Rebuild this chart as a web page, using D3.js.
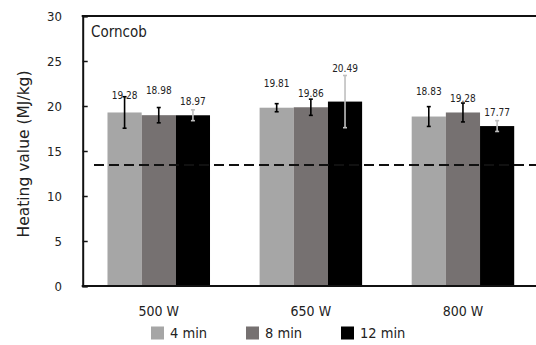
<!DOCTYPE html>
<html>
<head>
<meta charset="utf-8">
<script src="https://cdn.jsdelivr.net/npm/d3@7"></script>
<style>
  html, body { margin: 0; padding: 0; background: #fff; }
  svg { display: block; }
  text { font-family: "DejaVu Sans Condensed", "DejaVu Sans", sans-serif; font-stretch: condensed; fill: #222; }
  text.wide { font-family: "DejaVu Sans", sans-serif; font-stretch: normal; }
</style>
</head>
<body>
<svg id="chart" width="536" height="345"></svg>
<script>
// ---- data ----
const categories = ["500 W", "650 W", "800 W"];
const seriesNames = ["4 min", "8 min", "12 min"];
const values4 = [19.28, 19.81, 18.83];
const values8 = [18.98, 19.86, 19.28];
const values12 = [18.97, 20.49, 17.77];
const err4 = [1.75, 0.45, 1.1];
const err8 = [0.85, 0.9, 1.05];
const err12 = [0.6, 2.9, 0.6];
const yTicks = [0, 5, 10, 15, 20, 25, 30];
const referenceValue = 13.45;
const panelLabel = "Corncob";
const yTitle = "Heating value (MJ/kg)";

// ---- layout / style (kept separate from data) ----
const seriesColors = ["#a6a6a6", "#767171", "#000000"];
const errColors = ["#000000", "#000000", "#bfbfbf"];
// label heights (data units) as placed in the original figure
const labelLevels = [
  [21.2, 21.7, 20.45],
  [22.55, 21.35, 24.2],
  [21.65, 20.8, 19.25]
];

const seriesValues = [values4, values8, values12];
const seriesErrs = [err4, err8, err12];

const svg = d3.select("#chart");
const mLeft = 82.7, mRight = 539, mTop = 16, mBottom = 286;

const x = d3.scaleBand().domain(categories).range([mLeft, mRight])
  .paddingInner(0.326).paddingOuter(0.163);
const xs = d3.scaleBand().domain(seriesNames).range([0, x.bandwidth()]).padding(0);
const y = d3.scaleLinear().domain([0, 30]).range([mBottom, mTop]);

// bars
const rows = [];
categories.forEach((c, ci) => {
  seriesNames.forEach((s, si) => {
    rows.push({c, ci, s, si, v: seriesValues[si][ci], e: seriesErrs[si][ci], ly: labelLevels[ci][si]});
  });
});

svg.append("g").selectAll("rect").data(rows).join("rect")
  .attr("x", d => x(d.c) + xs(d.s))
  .attr("y", d => y(d.v))
  .attr("width", xs.bandwidth())
  .attr("height", d => y(0) - y(d.v))
  .attr("fill", d => seriesColors[d.si]);

// reference dashed line
svg.append("line")
  .attr("x1", 94).attr("x2", 536)
  .attr("y1", y(referenceValue)).attr("y2", y(referenceValue))
  .attr("stroke", "#111").attr("stroke-width", 2)
  .attr("stroke-dasharray", "10,5");

// error bars
const eg = svg.append("g").selectAll("g").data(rows).join("g")
  .attr("stroke", d => errColors[d.si]).attr("stroke-width", 1.6);
const cx = d => x(d.c) + xs(d.s) + xs.bandwidth() / 2;
eg.append("line").attr("x1", cx).attr("x2", cx)
  .attr("y1", d => y(d.v + d.e)).attr("y2", d => y(d.v - d.e));
eg.append("line").attr("x1", d => cx(d) - 2).attr("x2", d => cx(d) + 2)
  .attr("y1", d => y(d.v + d.e)).attr("y2", d => y(d.v + d.e));
eg.append("line").attr("x1", d => cx(d) - 2).attr("x2", d => cx(d) + 2)
  .attr("y1", d => y(d.v - d.e)).attr("y2", d => y(d.v - d.e));

// value labels
svg.append("g").selectAll("text").data(rows).join("text")
  .attr("x", cx)
  .attr("y", d => y(d.ly))
  .attr("dy", "0.35em")
  .attr("text-anchor", "middle")
  .attr("font-size", 10)
  .text(d => d.v.toFixed(2));

// y axis
const yAxis = d3.axisRight(y).tickValues(yTicks).tickSize(5).tickFormat("");
const yg = svg.append("g").attr("transform", `translate(${mLeft},0)`).call(yAxis);
yg.select(".domain").attr("stroke", "#111").attr("stroke-width", 2);
yg.selectAll(".tick line").attr("stroke", "#111").attr("stroke-width", 1.5);

svg.append("g").selectAll("text").data(yTicks).join("text")
  .attr("x", 62).attr("y", d => y(d)).attr("dy", "0.35em")
  .attr("text-anchor", "end").attr("font-size", 13)
  .text(d => d);

// frame top & bottom
svg.append("line").attr("x1", mLeft - 1).attr("x2", 536).attr("y1", mTop).attr("y2", mTop)
  .attr("stroke", "#111").attr("stroke-width", 2);
svg.append("line").attr("x1", mLeft - 1).attr("x2", 536).attr("y1", mBottom).attr("y2", mBottom)
  .attr("stroke", "#111").attr("stroke-width", 2);

// x category labels
const xAxis = d3.axisBottom(x).tickSize(0);
const xg = svg.append("g").attr("transform", `translate(0,${mBottom})`).call(xAxis);
xg.select(".domain").remove();
xg.attr("font-family", null).attr("font-size", null);
xg.selectAll("text").attr("font-size", 14).attr("y", 25).attr("dy", "0.35em");

// y title
svg.append("text").attr("class", "wide")
  .attr("transform", `translate(24,${(mTop + mBottom) / 2 + 3}) rotate(-90)`)
  .attr("dy", "0.35em")
  .attr("text-anchor", "middle").attr("font-size", 15.5)
  .text(yTitle);

// panel label
svg.append("text").attr("x", 91).attr("y", 31.5).attr("dy", "0.35em")
  .attr("font-size", 15).text(panelLabel);

// legend
const legendX = [151, 246, 341];
const lg = svg.append("g").selectAll("g").data(seriesNames).join("g")
  .attr("transform", (d, i) => `translate(${legendX[i]},326.5)`);
lg.append("rect").attr("width", 13).attr("height", 13).attr("fill", (d, i) => seriesColors[i]);
lg.append("text").attr("x", 19).attr("y", 6.5).attr("dy", "0.35em").attr("font-size", 14.5).text(d => d);
</script>
</body>
</html>
